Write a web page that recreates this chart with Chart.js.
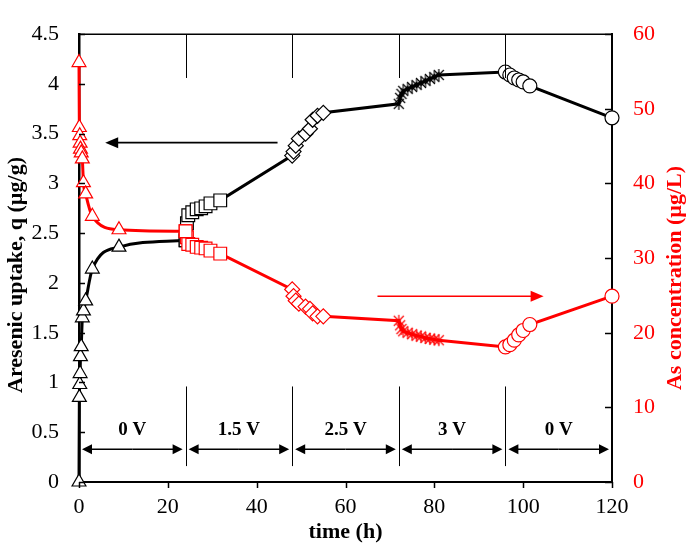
<!DOCTYPE html>
<html>
<head>
<meta charset="utf-8">
<script src="https://cdn.jsdelivr.net/npm/chart.js@4.4.1/dist/chart.umd.min.js"></script>
<style>
  html, body { margin: 0; padding: 0; background: #fff; }
</style>
</head>
<body>
<canvas id="uptakeChart" width="686" height="547"></canvas>
<script>
// sampling times (h) in each voltage stage
var time0V   = [0, 0.08, 0.17, 0.25, 0.33, 0.5, 0.75, 1, 1.5, 3, 9];
var time1_5V = [24, 24.3, 24.6, 25.5, 26.5, 27.5, 28.5, 29.6, 31.8];
var time2_5V = [48, 48.3, 48.8, 49.5, 51, 52, 52.6, 53.7, 55];
var time3V   = [72, 72.3, 72.6, 73, 74, 75, 76, 77, 78, 79, 80, 81];
var timeOff  = [96, 97, 98, 99, 100, 101.5, 120];

// arsenic uptake q (ug/g)
var q0V   = [0, 0.85, 0.98, 1.09, 1.26, 1.36, 1.65, 1.72, 1.82, 2.14, 2.36];
var q1_5V = [2.43, 2.6, 2.68, 2.71, 2.74, 2.75, 2.77, 2.8, 2.83];
var q2_5V = [3.28, 3.32, 3.38, 3.45, 3.5, 3.55, 3.64, 3.68, 3.71];
var q3V   = [3.8, 3.86, 3.9, 3.93, 3.95, 3.97, 3.99, 4.01, 4.03, 4.05, 4.07, 4.09];
var qOff  = [4.12, 4.09, 4.06, 4.04, 4.02, 3.98, 3.66];

// As concentration (ug/L)
var c0V   = [56.2, 47.5, 46.4, 45.4, 44.6, 44.1, 43.3, 40.1, 38.6, 35.6, 33.8];
var c1_5V = [33.6, 32.8, 31.9, 31.8, 31.5, 31.4, 31.3, 31.0, 30.6];
var c2_5V = [25.8, 24.9, 24.3, 23.9, 23.5, 23.2, 22.6, 22.2, 22.2];
var c3V   = [21.6, 21.0, 20.5, 20.2, 20.0, 19.8, 19.6, 19.5, 19.3, 19.2, 19.1, 19.0];
var cOff  = [18.1, 18.4, 19.0, 19.7, 20.3, 21.1, 24.9];

var stageEdges  = [0, 24, 48, 72, 96, 120];
var stageLabels = ['0 V', '1.5 V', '2.5 V', '3 V', '0 V'];

var RED = '#ff0000';
var SERIF = "'Liberation Serif', 'Times New Roman', serif";

// asterisk marker (x with a vertical bar), like the spreadsheet one
function asterisk(color) {
    var cv = document.createElement('canvas');
    cv.width = 14; cv.height = 14;
    var g = cv.getContext('2d');
    g.strokeStyle = color;
    g.lineWidth = 1.2;
    g.beginPath();
    g.moveTo(2, 2); g.lineTo(12, 12);
    g.moveTo(12, 2); g.lineTo(2, 12);
    g.moveTo(7, 1); g.lineTo(7, 13);
    g.stroke();
    return cv;
}

var stages = [
    { t: time0V,   q: q0V,   c: c0V,   marker: 'triangle', r: 8 },
    { t: time1_5V, q: q1_5V, c: c1_5V, marker: 'rect',     r: 9 },
    { t: time2_5V, q: q2_5V, c: c2_5V, marker: 'rectRot',  r: 7.5 },
    { t: time3V,   q: q3V,   c: c3V,   marker: 'star',     r: 7 },
    { t: timeOff,  q: qOff,  c: cOff,  marker: 'circle',   r: 7 }
];

// collect points of stages [from, to); optionally tack on the first point of stage 'to'
function buildSeries(key, color, from, to, joinNext) {
    var pts = [], styles = [], radii = [];
    var star = asterisk(color);
    function add(s, i) {
        pts.push({ x: s.t[i], y: s[key][i] });
        styles.push(s.marker === 'star' ? star : s.marker);
        radii.push(s.r);
    }
    for (var k = from; k < to; k++) {
        for (var i = 0; i < stages[k].t.length; i++) add(stages[k], i);
    }
    if (joinNext && stages[to]) add(stages[to], 0);
    return { pts: pts, styles: styles, radii: radii };
}

function makeDataset(series, axis, color, curved, order) {
    return {
        data: series.pts,
        yAxisID: axis,
        borderColor: color,
        borderWidth: 3,
        pointStyle: series.styles,
        pointRadius: series.radii,
        pointBorderColor: color,
        pointBackgroundColor: '#fff',
        pointBorderWidth: 1.2,
        cubicInterpolationMode: curved ? 'monotone' : 'default',
        tension: 0,
        clip: false,
        order: order
    };
}

function drawArrow(ctx, x1, y1, x2, y2, headLen, headHalf) {
    var ang = Math.atan2(y2 - y1, x2 - x1);
    ctx.beginPath();
    ctx.moveTo(x1, y1);
    ctx.lineTo(x2 - Math.cos(ang) * headLen * 0.8, y2 - Math.sin(ang) * headLen * 0.8);
    ctx.stroke();
    ctx.beginPath();
    ctx.moveTo(x2, y2);
    ctx.lineTo(x2 - Math.cos(ang) * headLen - Math.sin(ang) * headHalf, y2 - Math.sin(ang) * headLen + Math.cos(ang) * headHalf);
    ctx.lineTo(x2 - Math.cos(ang) * headLen + Math.sin(ang) * headHalf, y2 - Math.sin(ang) * headLen - Math.cos(ang) * headHalf);
    ctx.closePath();
    ctx.fill();
}

var annotate = {
    id: 'annotate',
    afterDraw: function (chart) {
        var ctx = chart.ctx, a = chart.chartArea;
        var xs = chart.scales.x, ys = chart.scales.y, ys2 = chart.scales.y2;
        ctx.save();
        ctx.strokeStyle = '#000';
        ctx.fillStyle = '#000';

        // top frame
        ctx.lineWidth = 1.5;
        ctx.beginPath();
        ctx.moveTo(a.left, a.top); ctx.lineTo(a.right, a.top);
        ctx.stroke();

        // tick marks: inward on both y axes, outward on x
        ctx.lineWidth = 1.5;
        ys.ticks.forEach(function (tk) {
            var y = Math.round(ys.getPixelForValue(tk.value)) + 0.5;
            ctx.beginPath(); ctx.moveTo(a.left, y); ctx.lineTo(a.left + 6, y); ctx.stroke();
        });
        ys2.ticks.forEach(function (tk) {
            var y = Math.round(ys2.getPixelForValue(tk.value)) + 0.5;
            ctx.beginPath(); ctx.moveTo(a.right - 7, y); ctx.lineTo(a.right, y); ctx.stroke();
        });
        xs.ticks.forEach(function (tk) {
            var x = Math.round(xs.getPixelForValue(tk.value)) + 0.5;
            ctx.beginPath(); ctx.moveTo(x, a.bottom); ctx.lineTo(x, a.bottom + 6); ctx.stroke();
        });

        // stage dividers
        ctx.lineWidth = 1;
        for (var i = 1; i < stageEdges.length - 1; i++) {
            var x = Math.round(xs.getPixelForValue(stageEdges[i])) + 0.5;
            ctx.beginPath();
            ctx.moveTo(x, a.top); ctx.lineTo(x, ys.getPixelForValue(4.06));
            ctx.moveTo(x, ys.getPixelForValue(0.96)); ctx.lineTo(x, ys.getPixelForValue(0.16));
            ctx.stroke();
        }

        // double arrows and stage labels
        var ay = ys.getPixelForValue(0.33);
        var ly = ys.getPixelForValue(0.52);
        ctx.lineWidth = 1.5;
        ctx.font = 'bold 19px ' + SERIF;
        ctx.textAlign = 'center';
        ctx.textBaseline = 'middle';
        for (var s = 0; s < stageLabels.length; s++) {
            var x1 = xs.getPixelForValue(stageEdges[s]) + 3;
            var x2 = xs.getPixelForValue(stageEdges[s + 1]) - 3;
            var xm = (x1 + x2) / 2;
            drawArrow(ctx, xm, ay, x1, ay, 10, 5);
            drawArrow(ctx, xm, ay, x2, ay, 10, 5);
            ctx.fillText(stageLabels[s], xm, ly);
        }

        // pointer arrows to the axes
        ctx.lineWidth = 1.8;
        drawArrow(ctx, xs.getPixelForValue(44.7), ys.getPixelForValue(3.41),
                  xs.getPixelForValue(5.9), ys.getPixelForValue(3.41), 13, 5.5);
        ctx.strokeStyle = RED;
        ctx.fillStyle = RED;
        ctx.lineWidth = 1.5;
        drawArrow(ctx, xs.getPixelForValue(67.2), ys2.getPixelForValue(24.9),
                  xs.getPixelForValue(104.6), ys2.getPixelForValue(24.9), 13, 5.5);

        // axis titles
        ctx.font = 'bold 22px ' + SERIF;
        ctx.fillStyle = '#000';
        ctx.fillText('time (h)', (a.left + a.right) / 2, 532);

        ctx.save();
        ctx.translate(16, 275);
        ctx.rotate(-Math.PI / 2);
        ctx.fillText('Aresenic uptake, q (\u00b5g/g)', 0, 0);
        ctx.restore();

        ctx.save();
        ctx.fillStyle = RED;
        ctx.translate(675, 278);
        ctx.rotate(-Math.PI / 2);
        ctx.fillText('As concentration (\u00b5g/L)', 0, 0);
        ctx.restore();

        ctx.restore();
    }
};

// the 0 V start is a smooth curve; later stages are joined by straight lines
var qEarly = buildSeries('q', '#000', 0, 1, true);
var qLate  = buildSeries('q', '#000', 1, stages.length, false);
var cEarly = buildSeries('c', RED, 0, 1, true);
var cLate  = buildSeries('c', RED, 1, stages.length, false);

var ctx = document.getElementById('uptakeChart');
var myChart = new Chart(ctx, {
    type: 'line',
    data: {
        datasets: [
            makeDataset(cEarly, 'y2', RED, true, 0),
            makeDataset(cLate, 'y2', RED, false, 1),
            makeDataset(qEarly, 'y', '#000', true, 2),
            makeDataset(qLate, 'y', '#000', false, 3)
        ]
    },
    options: {
        responsive: false,
        animation: false,
        layout: { padding: { top: 12, left: 0, right: 0, bottom: 0 } },
        plugins: { legend: { display: false }, tooltip: { enabled: false } },
        scales: {
            x: {
                type: 'linear',
                min: 0, max: 120,
                grid: { display: false, drawTicks: false },
                border: { display: true, color: '#000', width: 2 },
                ticks: { stepSize: 20, color: '#000', padding: 12, maxRotation: 0,
                         font: { family: SERIF, size: 22 } },
                afterFit: function (scale) { scale.height = 65; }
            },
            y: {
                position: 'left',
                min: 0, max: 4.5,
                grid: { display: false, drawTicks: false },
                border: { display: true, color: '#000', width: 2.5 },
                ticks: { stepSize: 0.5, color: '#000', padding: 20,
                         font: { family: SERIF, size: 22 },
                         callback: function (v) { return String(Math.round(v * 10) / 10); } },
                afterFit: function (scale) { scale.width = 79; }
            },
            y2: {
                position: 'right',
                min: 0, max: 60,
                grid: { display: false, drawTicks: false },
                border: { display: true, color: '#000', width: 2 },
                ticks: { stepSize: 10, color: RED, padding: 21,
                         font: { family: SERIF, size: 22 } },
                afterFit: function (scale) { scale.width = 74; }
            }
        }
    },
    plugins: [annotate]
});
</script>
</body>
</html>
